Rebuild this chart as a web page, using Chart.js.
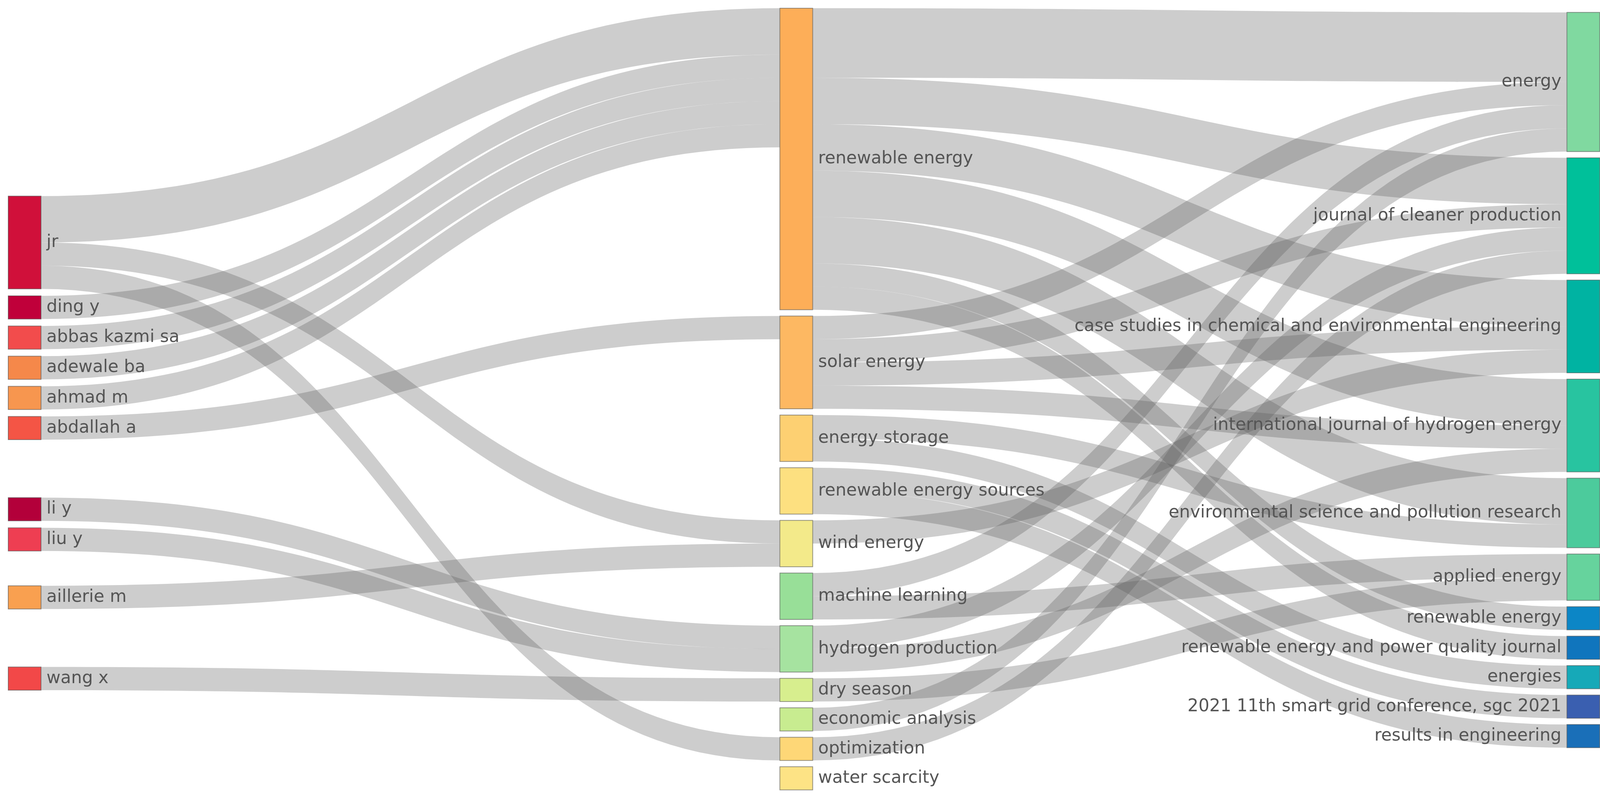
<!DOCTYPE html>
<html>
<head>
<meta charset="utf-8">
<script src="https://cdn.jsdelivr.net/npm/chart.js@4/dist/chart.umd.min.js"></script>
<style>
  html, body { margin: 0; padding: 0; background: #fff; }
  #wrap { width: 4119px; height: 2047px; }
</style>
</head>
<body>
<div id="wrap"><canvas id="chart"></canvas></div>
<script>
// nodes, per column
const authors = ['jr', 'ding y', 'abbas kazmi sa', 'adewale ba', 'ahmad m', 'abdallah a', 'li y', 'liu y', 'aillerie m', 'wang x'];
const keywords = ['renewable energy', 'solar energy', 'energy storage', 'renewable energy sources', 'wind energy',
  'machine learning', 'hydrogen production', 'dry season', 'economic analysis', 'optimization', 'water scarcity'];
const sources = ['energy', 'journal of cleaner production', 'case studies in chemical and environmental engineering',
  'international journal of hydrogen energy', 'environmental science and pollution research', 'applied energy',
  'renewable energy', 'renewable energy and power quality journal', 'energies',
  '2021 11th smart grid conference, sgc 2021', 'results in engineering'];

// flows: [from, to, value]
const authorFlows = [
  ['jr', 'renewable energy', 2], ['jr', 'wind energy', 1], ['jr', 'optimization', 1],
  ['ding y', 'renewable energy', 1], ['abbas kazmi sa', 'renewable energy', 1],
  ['adewale ba', 'renewable energy', 1], ['ahmad m', 'renewable energy', 1],
  ['abdallah a', 'solar energy', 1], ['li y', 'hydrogen production', 1], ['liu y', 'hydrogen production', 1],
  ['aillerie m', 'wind energy', 1], ['wang x', 'dry season', 1]
];
const keywordFlows = [
  ['renewable energy', 'energy', 3], ['renewable energy', 'journal of cleaner production', 2],
  ['renewable energy', 'case studies in chemical and environmental engineering', 2],
  ['renewable energy', 'international journal of hydrogen energy', 2],
  ['renewable energy', 'environmental science and pollution research', 2],
  ['renewable energy', 'renewable energy', 1], ['renewable energy', 'renewable energy and power quality journal', 1],
  ['solar energy', 'energy', 1], ['solar energy', 'journal of cleaner production', 1],
  ['solar energy', 'case studies in chemical and environmental engineering', 1],
  ['solar energy', 'international journal of hydrogen energy', 1],
  ['energy storage', 'environmental science and pollution research', 1], ['energy storage', 'energies', 1],
  ['renewable energy sources', '2021 11th smart grid conference, sgc 2021', 1],
  ['renewable energy sources', 'results in engineering', 1],
  ['wind energy', 'case studies in chemical and environmental engineering', 1],
  ['machine learning', 'energy', 1], ['machine learning', 'applied energy', 1],
  ['hydrogen production', 'journal of cleaner production', 1],
  ['hydrogen production', 'international journal of hydrogen energy', 1],
  ['dry season', 'applied energy', 1], ['economic analysis', 'energy', 1],
  ['optimization', 'journal of cleaner production', 1]
];

const authorColors = ['#d0103a', '#c0003a', '#f24c4c', '#f5884a', '#f7964f', '#f45545', '#b3003a', '#ee3e52', '#f9a050', '#f24848'];
const keywordColors = ['#fdae58', '#fdb862', '#fdd072', '#fde080', '#f3ea8a', '#98df98', '#a6e3a0', '#d7ee8e', '#c8ec90', '#fed777', '#fde385'];
const sourceColors = ['#80d9a0', '#00c09a', '#00b3a2', '#28c4a0', '#4ccb9c', '#66d39d', '#0c86c6', '#1075bd', '#16a9b8', '#3a5fb0', '#1a6fb8'];

// layout (in value units / reference px)
const GAP = 0.27;
const authorTops = [8.1, 12.4, 13.7, 15.0, 16.3, 17.6, 21.1, 22.4, 24.9, 28.4];
const colX = [8, 760, 1527];
const NODE_W = 32;

function sum(flows, idx, name) {
  return flows.filter(f => f[idx] === name).reduce((a, f) => a + f[2], 0);
}
function buildColumn(names, colors, col, inFlows, outFlows, tops, start) {
  let y = start;
  return names.map((n, i) => {
    const size = Math.max(inFlows ? sum(inFlows, 1, n) : 0, outFlows ? sum(outFlows, 0, n) : 0, 1);
    const top = tops ? tops[i] : y;
    y = top + size + GAP;
    return { name: n, color: colors[i], col: col, top: top, size: size, inOff: 0, outOff: 0 };
  });
}
const cols = [
  buildColumn(authors, authorColors, 0, null, authorFlows, authorTops, 0),
  buildColumn(keywords, keywordColors, 1, authorFlows, keywordFlows, null, 0),
  buildColumn(sources, sourceColors, 2, keywordFlows, null, null, 0.18)
];

function links(flows, a, b) {
  const out = [];
  // order by target within source, by source within target
  const list = flows.map(f => ({
    s: a.find(n => n.name === f[0]), t: b.find(n => n.name === f[1]), v: f[2]
  }));
  list.slice().sort((p, q) => (a.indexOf(p.s) - a.indexOf(q.s)) || (b.indexOf(p.t) - b.indexOf(q.t)))
    .forEach(l => { l.y0 = l.s.top + l.s.outOff; l.s.outOff += l.v; });
  list.slice().sort((p, q) => (b.indexOf(p.t) - b.indexOf(q.t)) || (a.indexOf(p.s) - a.indexOf(q.s)))
    .forEach(l => { l.y1 = l.t.top + l.t.inOff; l.t.inOff += l.v; });
  return list;
}
const allLinks = links(authorFlows, cols[0], cols[1]).concat(links(keywordFlows, cols[1], cols[2]));

const sankeyPlugin = {
  id: 'sankey',
  beforeDatasetsDraw(chart) {
    const { ctx, scales: { x, y } } = chart;
    ctx.save();
    ctx.fillStyle = 'rgba(90,90,90,0.3)';
    allLinks.forEach(l => {
      const x0 = x.getPixelForValue(colX[l.s.col] + NODE_W);
      const x1 = x.getPixelForValue(colX[l.t.col]);
      const xm = (x0 + x1) / 2;
      const a0 = y.getPixelForValue(l.y0), a1 = y.getPixelForValue(l.y0 + l.v);
      const b0 = y.getPixelForValue(l.y1), b1 = y.getPixelForValue(l.y1 + l.v);
      ctx.beginPath();
      ctx.moveTo(x0, a0);
      ctx.bezierCurveTo(xm, a0, xm, b0, x1, b0);
      ctx.lineTo(x1, b1);
      ctx.bezierCurveTo(xm, b1, xm, a1, x0, a1);
      ctx.closePath();
      ctx.fill();
    });
    ctx.restore();
  },
  afterDatasetsDraw(chart) {
    const { ctx, scales: { x, y } } = chart;
    ctx.save();
    ctx.font = '44px "DejaVu Sans"';
    ctx.textBaseline = 'middle';
    cols.flat().forEach(n => {
      const px = x.getPixelForValue(colX[n.col]);
      const pw = x.getPixelForValue(colX[n.col] + NODE_W) - px;
      const py = y.getPixelForValue(n.top);
      const ph = y.getPixelForValue(n.top + n.size) - py;
      ctx.fillStyle = n.color;
      ctx.fillRect(px, py, pw, ph);
      ctx.strokeStyle = 'rgba(80,80,80,0.6)';
      ctx.lineWidth = 2;
      ctx.strokeRect(px, py, pw, ph);
      ctx.fillStyle = '#555';
      if (n.col === 2) {
        ctx.textAlign = 'right';
        ctx.fillText(n.name, px - 14, py + ph / 2);
      } else {
        ctx.textAlign = 'left';
        ctx.fillText(n.name, px + pw + 14, py + ph / 2);
      }
    });
    ctx.restore();
  }
};

new Chart(document.getElementById('chart'), {
  type: 'scatter',
  data: {
    datasets: [{
      data: cols.flat().map(n => ({ x: colX[n.col] + NODE_W / 2, y: n.top + n.size / 2 })),
      pointRadius: 0
    }]
  },
  options: {
    responsive: true,
    maintainAspectRatio: false,
    animation: false,
    layout: { padding: { top: 21, bottom: 8, left: 0, right: 0 } },
    scales: {
      x: { type: 'linear', display: false, min: 0, max: 1568 },
      y: { type: 'linear', display: false, min: 0, max: 34, reverse: true }
    },
    plugins: { legend: { display: false }, tooltip: { enabled: false } }
  },
  plugins: [sankeyPlugin]
});
</script>
</body>
</html>
